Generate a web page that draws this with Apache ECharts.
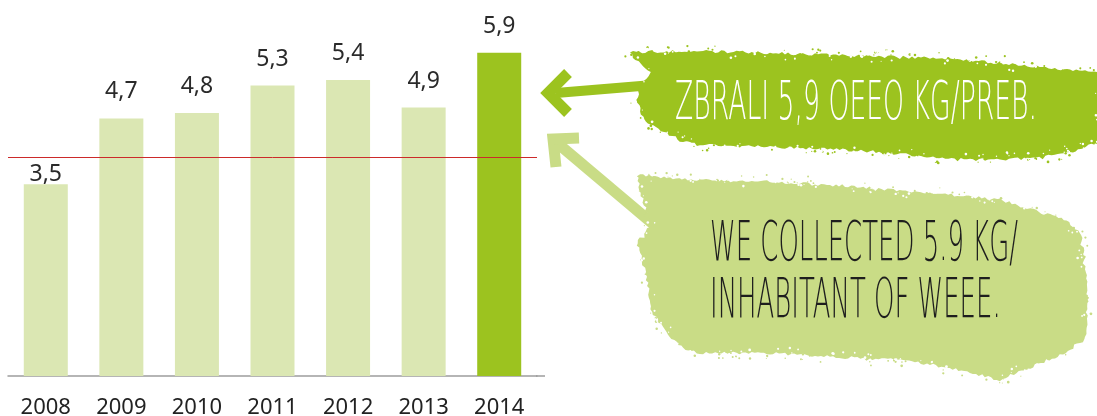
<!DOCTYPE html>
<html><head><meta charset="utf-8">
<script src="https://cdn.jsdelivr.net/npm/echarts@6/dist/echarts.min.js"></script>
<style>html,body{margin:0;padding:0;background:#fff}#c{width:1097px;height:416px}</style>
</head><body><div id="c"></div>
<script>
// ---- data ----
const years = ['2008', '2009', '2010', '2011', '2012', '2013', '2014'];
const values = [3.5, 4.7, 4.8, 5.3, 5.4, 4.9, 5.9];
const refValue = 4.0;
const calloutMain = 'ZBRALI 5,9 OEEO KG/PREB.';
const calloutSub = ['WE COLLECTED 5.9 KG/', 'INHABITANT OF WEEE.'];

// ---- styles ----
const DARK = '#9cc31f', LIGHT_BAR = '#dbe7b3', LIGHT = '#c9dc86';
const chart = echarts.init(document.getElementById('c'));

function hash(n) { const s = Math.sin(n * 12.9898 + 4.1414) * 43758.5453; return s - Math.floor(s); }
function rough(pts, amp, step, seed) {
  const out = []; let k = seed * 1000;
  for (let i = 0; i < pts.length; i++) {
    const a = pts[i], b = pts[(i + 1) % pts.length];
    const dx = b[0] - a[0], dy = b[1] - a[1], len = Math.hypot(dx, dy) || 1;
    const m = Math.max(1, Math.round(len / step)), nx = -dy / len, ny = dx / len;
    for (let j = 0; j < m; j++) {
      const t = j / m; k++;
      const spike = hash(k * 3.7) > 0.95 ? 2 : 1;
      const off = (hash(k) - 0.5) * amp * spike;
      out.push([a[0] + dx * t + nx * off, a[1] + dy * t + ny * off]);
    }
  }
  return out;
}
function speckles(pts, color, inner, seed, count) {
  const els = [];
  for (let i = 0; i < count; i++) {
    const p = pts[Math.floor(hash(seed + i * 1.31) * pts.length)];
    const ox = (hash(seed + i * 2.17) - 0.5) * 12, oy = (hash(seed + i * 5.03) - 0.5) * 12;
    els.push({ type: 'circle', z: inner ? 12 : 9, silent: true,
      shape: { cx: p[0] + ox, cy: p[1] + oy, r: 0.5 + hash(seed + i * 7.7) * 0.9 },
      style: { fill: color } });
  }
  return els;
}

const darkOutline = [[630,52],[700,51],[770,53],[833,55],[900,57],[933,58],[1000,63],[1067,70],[1100,73],
  [1100,142],[1067,153],[1030,158],[1000,160],[967,159],[933,157],[867,151],[800,148],[767,147],[700,145],
  [683,142],[667,133],[650,125],[643,117],[636,100],[640,85],[650,73],[638,62]];
const lightOutline = [[637,175],[700,180],[767,182],[833,185],[933,193],[1000,200],[1033,210],[1067,220],
  [1082,235],[1085,260],[1088,300],[1085,340],[1060,355],[1033,367],[1000,380],[967,372],[933,365],[900,360],
  [833,357],[767,353],[700,353],[683,348],[667,335],[652,312],[647,280],[640,250],[637,243],[650,227],[645,205],[640,193]];
const darkPts = rough(darkOutline, 3, 3, 1);
const lightPts = rough(lightOutline, 3, 3, 2);

const ctx = document.createElement('canvas').getContext('2d');
function textW(t, f) { ctx.font = f; return ctx.measureText(t).width; }
const FF = '"DejaVu Sans"';
const fsMain = 54, fsSub = 55;
const fontMain = '200 ' + fsMain + 'px ' + FF, fontSub = '200 ' + fsSub + 'px ' + FF;
const sxMain = 362 / textW(calloutMain, fontMain);
const sxSub = 308 / textW(calloutSub[0], fontSub);

const graphics = [
  // axis line extension
  { type: 'line', z: 3, shape: { x1: 536, y1: 376, x2: 545, y2: 376 }, style: { stroke: '#9d9d9d', lineWidth: 1.5 } },
  // dark arrow
  { type: 'line', z: 5, shape: { x1: 556, y1: 93, x2: 665, y2: 84 }, style: { stroke: DARK, lineWidth: 10 } },
  { type: 'polyline', z: 5, shape: { points: [[568, 73], [548, 93], [568, 113]] },
    style: { stroke: DARK, lineWidth: 11, fill: null, lineJoin: 'miter', lineCap: 'butt' } },
  // light arrow
  { type: 'line', z: 5, shape: { x1: 556, y1: 142, x2: 665, y2: 234 }, style: { stroke: LIGHT, lineWidth: 11 } },
  { type: 'polyline', z: 5, shape: { points: [[579, 138], [553, 139], [556, 167]] },
    style: { stroke: LIGHT, lineWidth: 11, fill: null, lineJoin: 'miter', lineCap: 'butt' } },
  // brushes
  { type: 'polygon', z: 10, shape: { points: darkPts }, style: { fill: DARK } },
  { type: 'polygon', z: 10, shape: { points: lightPts }, style: { fill: LIGHT } },
  ...speckles(darkPts, DARK, false, 11, 160),
  ...speckles(darkPts, '#ffffff', true, 23, 140),
  ...speckles(lightPts, LIGHT, false, 37, 180),
  ...speckles(lightPts, '#ffffff', true, 51, 160),
  // texts
  { type: 'text', z: 20, x: 675, y: 101 + 0.065 * fsMain, scaleX: sxMain,
    style: { text: calloutMain, fill: '#ffffff', font: fontMain, align: 'left', verticalAlign: 'middle' } },
  { type: 'text', z: 20, x: 710, y: 242.5 + 0.065 * fsSub, scaleX: sxSub,
    style: { text: calloutSub[0], fill: '#1e1e1e', font: fontSub, align: 'left', verticalAlign: 'middle' } },
  { type: 'text', z: 20, x: 710, y: 299 + 0.065 * fsSub, scaleX: sxSub,
    style: { text: calloutSub[1], fill: '#1e1e1e', font: fontSub, align: 'left', verticalAlign: 'middle' } }
];

const fmt = v => v.toFixed(1).replace('.', ',');
chart.setOption({
  animation: false,
  grid: { left: 8, right: 560, top: 19.8, bottom: 40, outerBoundsMode: 'none', containLabel: false },
  xAxis: {
    type: 'category', data: years,
    axisLine: { lineStyle: { color: '#9d9d9d', width: 1.5 } },
    axisTick: { show: false },
    axisLabel: { fontSize: 22, color: '#222', margin: 21, fontFamily: 'Noto Sans' }
  },
  yAxis: { type: 'value', min: 0, max: 6.5, show: false, splitLine: { show: false } },
  series: [{
    type: 'bar', barWidth: 44,
    data: values.map((v, i) => ({
      value: v,
      itemStyle: { color: i === values.length - 1 ? DARK : LIGHT_BAR },
      label: { distance: v < refValue ? -2 : 15 }
    })),
    label: { show: true, position: 'top', fontSize: 23, color: '#2a2a2a', fontFamily: 'Noto Sans',
      formatter: p => fmt(p.value) },
    markLine: {
      silent: true, symbol: 'none', label: { show: false },
      lineStyle: { color: '#cc2a2a', width: 1, type: 'solid', opacity: 1 },
      data: [{ yAxis: refValue, lineStyle: { color: '#cc2a2a', width: 1, type: 'solid' } }]
    }
  }],
  graphic: { elements: graphics }
});
</script></body></html>
